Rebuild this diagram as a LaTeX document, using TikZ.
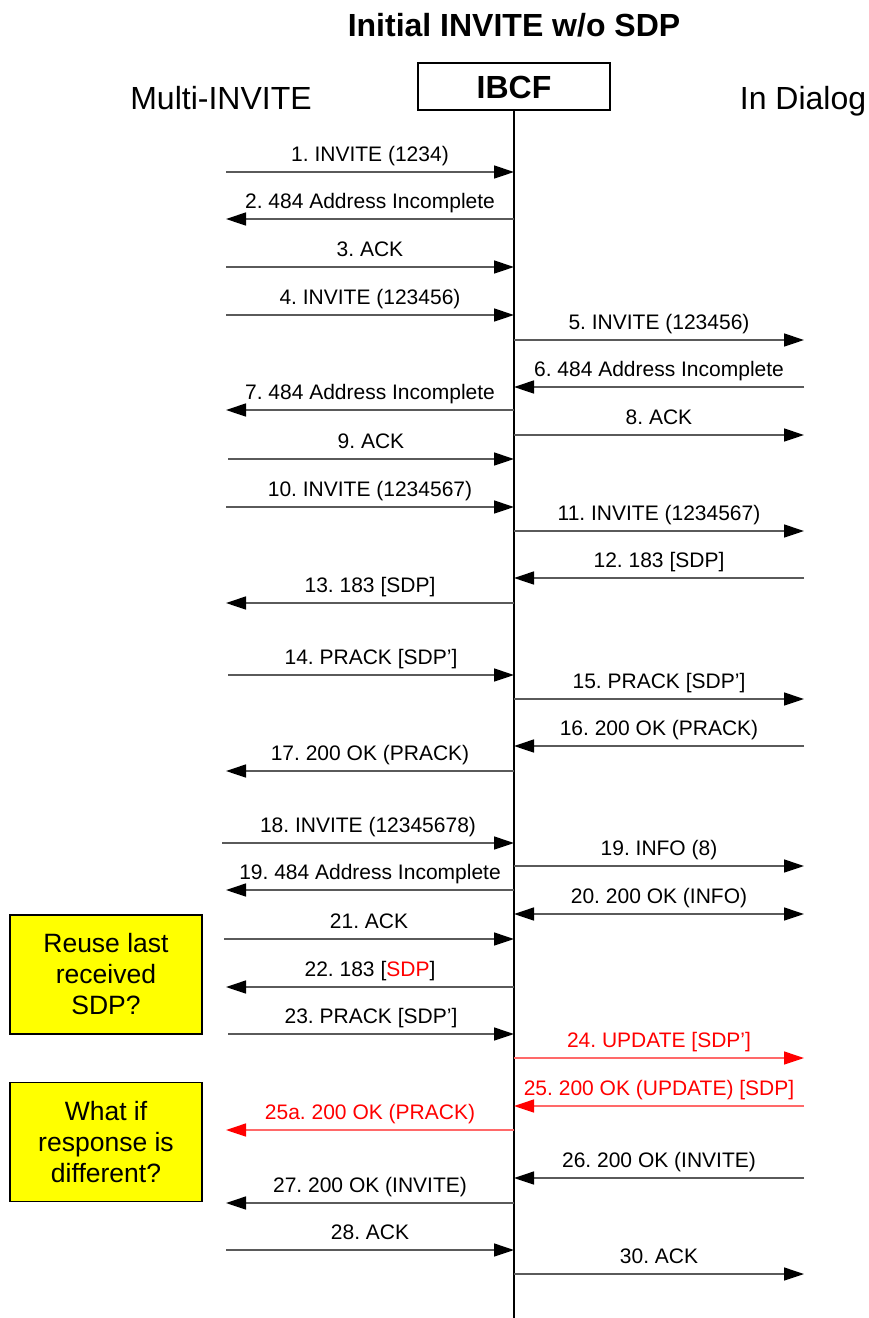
\documentclass[tikz,border=0pt]{standalone}
\usepackage{fontspec}
\setmainfont{Liberation Sans}
\usetikzlibrary{arrows.meta}
\frenchspacing
\definecolor{linegray}{RGB}{90,90,90}
\definecolor{lightred}{RGB}{255,105,105}
\definecolor{boxyellow}{RGB}{255,255,0}
\newcommand\seqmsg[6][msg]{%
  \coordinate (s#2) at (#4,#3);
  \coordinate (e#2) at (#5,#3);
  \draw[#1] (s#2) -- (e#2) node[lbl, midway, yshift=11pt] (t#2) {#6};
}
\begin{document}
\begin{tikzpicture}[x=1pt,y=-1pt,
  lbl/.style={font=\fontsize{21}{25}\selectfont\frenchspacing, inner sep=0pt, anchor=base},
  tipb/.tip={Triangle[length=20pt,width=13pt,color=black]},
  tipr/.tip={Triangle[length=20pt,width=13pt,color=red]},
  msg/.style={draw=linegray, line width=1.4pt, -tipb},
  msgboth/.style={draw=linegray, line width=1.4pt, tipb-tipb},
  msgred/.style={draw=lightred, line width=1.4pt, -tipr},
  hdr/.style={font=\fontsize{32}{36}\selectfont, inner sep=0pt, anchor=base},
  qbox/.style={draw=black, line width=1.8pt, fill=boxyellow, minimum width=192pt, minimum height=119pt, align=center, inner sep=0pt, font=\fontsize{26.5}{31}\selectfont}
]
\useasboundingbox (0,0) rectangle (869,1318);
\node[hdr, font=\fontsize{32}{36}\selectfont\bfseries] (title) at (514,36) {Initial INVITE w/o SDP};
\node[draw=black, line width=1.4pt, minimum width=192pt, minimum height=47pt, inner sep=0pt] (ibcf) at (514,86.5) {};
\node[hdr, font=\fontsize{32}{36}\selectfont\bfseries] (ibcft) at (514,98) {IBCF};
\node[hdr] (multi) at (221,109) {Multi-INVITE};
\node[hdr] (indlg) at (803,109) {In Dialog};
\coordinate (lifeend) at (514,1318);
\draw[line width=1.3pt] (ibcf.south) -- (lifeend);

\seqmsg{1}{172}{226}{514}{1. INVITE (1234)}
\seqmsg{2}{219}{514}{226}{2. 484 Address Incomplete}
\seqmsg{3}{267}{226}{514}{3. ACK}
\seqmsg{4}{315}{226}{514}{4. INVITE (123456)}
\seqmsg{5}{340}{514}{804}{5. INVITE (123456)}
\seqmsg{6}{387}{804}{514}{6. 484 Address Incomplete}
\seqmsg{7}{410}{514}{226}{7. 484 Address Incomplete}
\seqmsg{8}{435}{514}{804}{8. ACK}
\seqmsg{9}{459}{228}{514}{9. ACK}
\seqmsg{10}{507}{226}{514}{10. INVITE (1234567)}
\seqmsg{11}{531}{514}{804}{11. INVITE (1234567)}
\seqmsg{12}{578}{804}{514}{12. 183 [SDP]}
\seqmsg{13}{603}{514}{226}{13. 183 [SDP]}
\seqmsg{14}{675}{228}{514}{14. PRACK [SDP’]}
\seqmsg{15}{699}{514}{804}{15. PRACK [SDP’]}
\seqmsg{16}{746}{804}{514}{16. 200 OK (PRACK)}
\seqmsg{17}{771}{514}{226}{17. 200 OK (PRACK)}
\seqmsg{18}{843}{222}{514}{18. INVITE (12345678)}
\seqmsg{19}{866}{514}{804}{19. INFO (8)}
\seqmsg{19b}{890}{514}{226}{19. 484 Address Incomplete}
\seqmsg[msgboth]{20}{914}{514}{804}{20. 200 OK (INFO)}
\seqmsg{21}{939}{224}{514}{21. ACK}
\seqmsg{22}{987}{514}{226}{22. 183 [\textcolor{red}{SDP}]}
\seqmsg{23}{1034}{228}{514}{23. PRACK [SDP’]}
\seqmsg[msgred]{24}{1058}{514}{804}{\textcolor{red}{24. UPDATE [SDP’]}}
\seqmsg[msgred]{25}{1106}{804}{514}{\textcolor{red}{25. 200 OK (UPDATE) [SDP]}}
\seqmsg[msgred]{25a}{1130}{514}{226}{\textcolor{red}{25a. 200 OK (PRACK)}}
\seqmsg{26}{1178}{804}{514}{26. 200 OK (INVITE)}
\seqmsg{27}{1203}{514}{226}{27. 200 OK (INVITE)}
\seqmsg{28}{1250}{226}{514}{28. ACK}
\seqmsg{30}{1274}{514}{804}{30. ACK}

\node[qbox] (q1) at (106,974.5) {Reuse last\\received\\SDP?};
\node[qbox] (q2) at (106,1142) {What if\\response is\\different?};
\end{tikzpicture}
\end{document}
